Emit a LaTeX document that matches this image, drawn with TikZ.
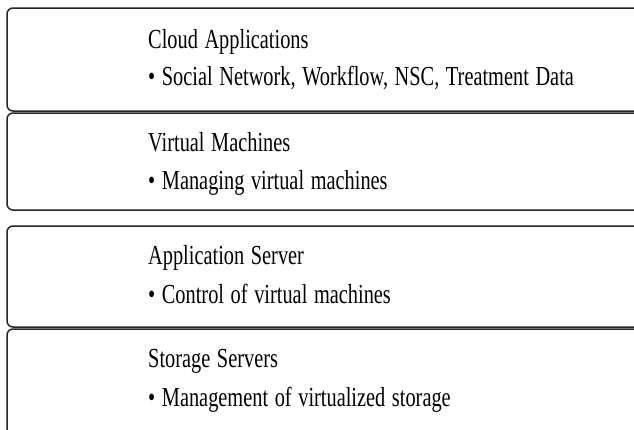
\documentclass[tikz,border=0pt]{standalone}
\usepackage{fontspec}
\setmainfont{Liberation Serif}[FakeStretch=0.74,WordSpace=1.3]
\begin{document}
\begin{tikzpicture}[x=1pt,y=-1pt,
  layer/.style={draw=black!85,line width=1.5pt,rounded corners=6pt},
  title/.style={anchor=base west,inner sep=0pt,font=\fontsize{27.5}{33}\selectfont},
  item/.style={anchor=base west,inner sep=0pt,font=\fontsize{27.5}{33}\selectfont}]
\useasboundingbox (0,0) rectangle (634,429);
\clip (0,0) rectangle (634,429);
\draw[layer] (7,8) rectangle (660,111);
\draw[layer] (7,113) rectangle (660,210);
\draw[layer] (7,226) rectangle (660,327);
\draw[layer] (7,329) rectangle (660,440);
\node[title] (t1) at (148,48) {Cloud Applications};
\node[item] (b1) at (148,85) {• Social Network, Workflow, NSC, Treatment Data};
\node[title] (t2) at (148,151) {Virtual Machines};
\node[item] (b2) at (148,189) {• Managing virtual machines};
\node[title] (t3) at (148,264) {Application Server};
\node[item] (b3) at (148,303) {• Control of virtual machines};
\node[title] (t4) at (148,367) {Storage Servers};
\node[item] (b4) at (148,406) {• Management of virtualized storage};
\end{tikzpicture}
\end{document}
